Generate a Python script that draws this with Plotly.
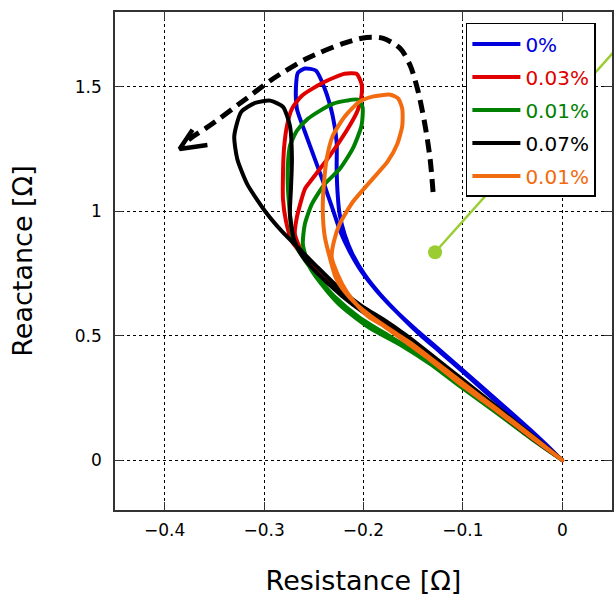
import plotly.graph_objects as go

# ---------------- data (Resistance [Ω], Reactance [Ω]) ----------------
blue_r = [0, -0.032, -0.0625, -0.100, -0.123, -0.143, -0.163, -0.183, -0.199, -0.211, -0.219,
          -0.224, -0.226, -0.227, -0.227, -0.231, -0.239, -0.248, -0.259, -0.266, -0.268, -0.267,
          -0.259, -0.249, -0.239, -0.231, -0.223, -0.214, -0.202, -0.186, -0.166, -0.146,
          -0.126, -0.103, -0.066, -0.032, 0]
blue_x = [0, 0.113, 0.222, 0.355, 0.435, 0.504, 0.581, 0.665, 0.746, 0.827, 0.907,
          0.988, 1.069, 1.169, 1.278, 1.383, 1.492, 1.565, 1.573, 1.556, 1.492, 1.411,
          1.319, 1.210, 1.101, 1.008, 0.915, 0.839, 0.758, 0.677, 0.593, 0.520,
          0.452, 0.371, 0.242, 0.121, 0]

red_r = [0, -0.032, -0.066, -0.100, -0.133, -0.158, -0.180, -0.201, -0.222, -0.239, -0.254,
         -0.261, -0.269, -0.267, -0.259, -0.254, -0.234, -0.214, -0.206, -0.202, -0.202,
         -0.207, -0.219, -0.239, -0.262, -0.272, -0.277, -0.280, -0.281, -0.281, -0.278,
         -0.272, -0.262, -0.249, -0.239, -0.222, -0.201, -0.180, -0.158, -0.133, -0.100,
         -0.066, -0.032, 0]
red_x = [0, 0.097, 0.202, 0.306, 0.411, 0.488, 0.548, 0.601, 0.665, 0.726, 0.786,
         0.827, 0.907, 0.976, 1.089, 1.117, 1.222, 1.343, 1.403, 1.464, 1.512,
         1.552, 1.552, 1.520, 1.464, 1.411, 1.343, 1.250, 1.149, 1.048, 0.960,
         0.879, 0.827, 0.766, 0.722, 0.669, 0.605, 0.552, 0.492, 0.415, 0.310,
         0.204, 0.099, 0]

green_r = [0, -0.032, -0.066, -0.100, -0.133, -0.163, -0.194, -0.221, -0.237, -0.254,
           -0.261, -0.259, -0.252, -0.239, -0.224, -0.211, -0.202, -0.201, -0.206, -0.217,
           -0.231, -0.244, -0.256, -0.267, -0.274, -0.276, -0.276, -0.274, -0.272, -0.266,
           -0.258, -0.246, -0.229, -0.204, -0.173, -0.133, -0.100, -0.066, -0.032, 0]
green_x = [0, 0.089, 0.190, 0.288, 0.387, 0.464, 0.532, 0.613, 0.681, 0.774,
           0.867, 0.948, 1.028, 1.109, 1.169, 1.250, 1.343, 1.419, 1.448, 1.444,
           1.431, 1.403, 1.371, 1.323, 1.262, 1.190, 1.089, 0.988, 0.907, 0.847,
           0.798, 0.734, 0.657, 0.573, 0.496, 0.399, 0.298, 0.196, 0.095, 0]

black_r = [0, -0.032, -0.066, -0.100, -0.133, -0.158, -0.180, -0.201, -0.222, -0.239, -0.254,
           -0.264, -0.270, -0.274, -0.273, -0.272, -0.274, -0.281, -0.294, -0.309, -0.323,
           -0.330, -0.327, -0.317, -0.299, -0.282, -0.262, -0.246, -0.222, -0.201, -0.180,
           -0.158, -0.133, -0.100, -0.066, -0.032, 0]
black_x = [0, 0.093, 0.198, 0.302, 0.407, 0.484, 0.544, 0.597, 0.661, 0.722, 0.782,
           0.835, 0.887, 0.988, 1.089, 1.210, 1.343, 1.419, 1.444, 1.435, 1.399,
           1.302, 1.210, 1.109, 1.000, 0.919, 0.839, 0.774, 0.681, 0.617, 0.565,
           0.504, 0.427, 0.323, 0.214, 0.105, 0]

orange_r = [0, -0.032, -0.066, -0.100, -0.133, -0.158, -0.180, -0.194, -0.206, -0.217, -0.226,
            -0.232, -0.230, -0.224, -0.211, -0.191, -0.176, -0.166, -0.161, -0.161, -0.165,
            -0.173, -0.191, -0.204, -0.219, -0.231, -0.237, -0.240, -0.241, -0.239, -0.234,
            -0.228, -0.219, -0.207, -0.192, -0.173, -0.153, -0.133, -0.100, -0.066, -0.032, 0]
orange_x = [0, 0.095, 0.198, 0.298, 0.403, 0.476, 0.540, 0.573, 0.621, 0.677, 0.746,
            0.815, 0.875, 0.948, 1.036, 1.129, 1.198, 1.270, 1.343, 1.411, 1.452,
            1.468, 1.460, 1.440, 1.379, 1.302, 1.210, 1.101, 1.008, 0.899, 0.815,
            0.734, 0.677, 0.625, 0.577, 0.524, 0.472, 0.411, 0.310, 0.206, 0.101, 0]

series_names = ["0%", "0.03%", "0.01%", "0.07%", "0.01%"]
series_colors = ["#0000dd", "#e00000", "#008000", "#000000", "#f26b0f"]
series_r = [blue_r, red_r, green_r, black_r, orange_r]
series_x = [blue_x, red_x, green_x, black_x, orange_x]

# trend arrow (dashed) and pointer line
arrow_r = [-0.130, -0.133, -0.138, -0.145, -0.153, -0.163, -0.180, -0.197, -0.221,
           -0.257, -0.291, -0.318, -0.355, -0.375, -0.383]
arrow_x = [1.077, 1.210, 1.343, 1.480, 1.585, 1.653, 1.694, 1.698, 1.673,
           1.613, 1.532, 1.452, 1.343, 1.290, 1.257]
head_r = [-0.372, -0.385, -0.357]
head_x = [1.327, 1.250, 1.266]
pointer_r = [-0.128, 0.053]
pointer_x = [0.835, 1.645]

FONT = "DejaVu Sans, Liberation Sans, Arial, sans-serif"

# ---------------- figure ----------------
fig = go.Figure()

for i, (nm, col, r, x) in enumerate(zip(series_names, series_colors, series_r, series_x)):
    fig.add_trace(go.Scatter(
        x=r, y=x, mode="lines",
        line=dict(color=col, width=4, shape="spline", smoothing=0.6),
        name=f'<span style="color:{col}">{nm}</span>',
        legendgroup=f"g{i}",
    ))

fig.add_trace(go.Scatter(x=arrow_r, y=arrow_x, mode="lines", showlegend=False,
                         line=dict(color="black", width=5, dash="13px,7px",
                                   shape="spline", smoothing=0.8)))
fig.add_trace(go.Scatter(x=head_r, y=head_x, mode="lines", showlegend=False,
                         line=dict(color="black", width=4.5)))
fig.add_trace(go.Scatter(x=pointer_r, y=pointer_x, mode="lines", showlegend=False,
                         line=dict(color="#9acd32", width=2.5), cliponaxis=False))
fig.add_trace(go.Scatter(x=pointer_r[:1], y=pointer_x[:1], mode="markers", showlegend=False,
                         marker=dict(color="#9acd32", size=14)))

axis_common = dict(
    showgrid=True, gridcolor="black", gridwidth=1, griddash="dot",
    zeroline=False, showline=True, linecolor="#333333", linewidth=1.5,
    mirror="ticks", ticks="inside", ticklen=8, tickwidth=1.2, tickcolor="#333333",
    tickfont=dict(family=FONT, size=17, color="black"),
    automargin=False,
)

fig.update_layout(
    width=615, height=599,
    margin=dict(l=115, r=3, t=12, b=89, autoexpand=False),
    paper_bgcolor="white", plot_bgcolor="white",
    xaxis=dict(range=[-0.45, 0.05], dtick=0.1, tick0=0, ticklabelstandoff=4,
               title=dict(text="Resistance [Ω]", standoff=32,
                          font=dict(family=FONT, size=27, color="black")),
               **axis_common),
    yaxis=dict(range=[-0.2, 1.8], dtick=0.5, tick0=0, ticklabelstandoff=8,
               title=dict(text="Reactance [Ω]", standoff=34,
                          font=dict(family=FONT, size=27, color="black")),
               **axis_common),
    legend=dict(x=0.706, y=0.978, xanchor="left", yanchor="top",
                bgcolor="white", bordercolor="black", borderwidth=1.5,
                font=dict(family=FONT, size=20),
                traceorder="grouped", tracegroupgap=4, itemwidth=48),
    showlegend=True,
)

fig.write_html("out.html", config={"displayModeBar": False},
               post_script="document.body.style.margin='0';document.body.style.overflow='hidden';")
